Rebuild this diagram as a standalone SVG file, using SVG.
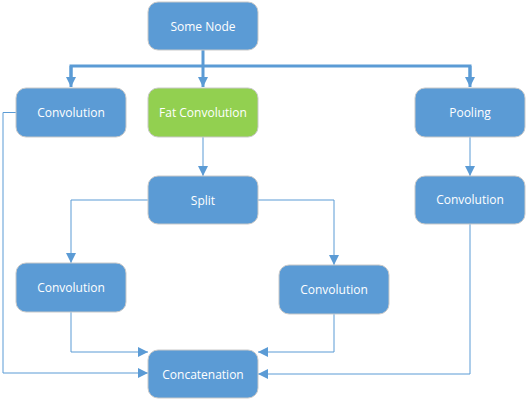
<svg xmlns="http://www.w3.org/2000/svg" width="527" height="400" viewBox="0 0 527 400">
<defs>
<style>
.box{fill:#5B9BD5;stroke:#C9C9C9;stroke-width:1}
.green{fill:#92D050}
.lbl{font-family:"Open Sans","Noto Sans",sans-serif;font-size:12px;fill:#FFFFFF;text-anchor:middle;dominant-baseline:central}
.thin{fill:none;stroke:#5B9BD5;stroke-width:1}
.thick{fill:none;stroke:#5B9BD5;stroke-width:3}
</style>
<marker id="ah" viewBox="0 0 10 10" refX="10" refY="5" markerWidth="10" markerHeight="10" markerUnits="userSpaceOnUse" orient="auto">
<path d="M0,0 L10,5 L0,10 Z" fill="#5B9BD5"/>
</marker>
</defs>
<g id="connectors">
<path class="thick" d="M203,50 V66"/>
<path class="thick" d="M71,80 V66 H470 V80"/>
<path class="thick" d="M71,66 V87" marker-end="url(#ah)"/>
<path class="thick" d="M203,66 V87" marker-end="url(#ah)"/>
<path class="thick" d="M470,66 V87" marker-end="url(#ah)"/>
<path class="thin" d="M203,137 V176" marker-end="url(#ah)"/>
<path class="thin" d="M470,137 V176" marker-end="url(#ah)"/>
<path class="thin" d="M148,200 H71 V263" marker-end="url(#ah)"/>
<path class="thin" d="M258,200 H334 V265" marker-end="url(#ah)"/>
<path class="thin" d="M16,112.5 H3 V373 H148" marker-end="url(#ah)"/>
<path class="thin" d="M71,312 V352 H148" marker-end="url(#ah)"/>
<path class="thin" d="M334,314 V352 H258" marker-end="url(#ah)"/>
<path class="thin" d="M470,224 V374 H258" marker-end="url(#ah)"/>
</g>
<g id="some-node"><rect class="box" x="148" y="2" width="110" height="48" rx="10"/><text class="lbl" x="203" y="26">Some Node</text></g>
<g id="conv-top-left"><rect class="box" x="16" y="88" width="110" height="49" rx="10"/><text class="lbl" x="71" y="112">Convolution</text></g>
<g id="fat-conv"><rect class="box green" x="148" y="88" width="110" height="49" rx="10"/><text class="lbl" x="203" y="112">Fat Convolution</text></g>
<g id="pooling"><rect class="box" x="415" y="88" width="110" height="49" rx="10"/><text class="lbl" x="470" y="112">Pooling</text></g>
<g id="split"><rect class="box" x="148" y="176" width="110" height="48" rx="10"/><text class="lbl" x="203" y="200">Split</text></g>
<g id="conv-right"><rect class="box" x="415" y="176" width="110" height="48" rx="10"/><text class="lbl" x="470" y="199">Convolution</text></g>
<g id="conv-mid-left"><rect class="box" x="16" y="263" width="110" height="49" rx="10"/><text class="lbl" x="71" y="287">Convolution</text></g>
<g id="conv-mid-right"><rect class="box" x="279" y="265" width="110" height="49" rx="10"/><text class="lbl" x="334" y="289">Convolution</text></g>
<g id="concat"><rect class="box" x="148" y="350" width="110" height="48" rx="10"/><text class="lbl" x="203" y="374">Concatenation</text></g>
</svg>
